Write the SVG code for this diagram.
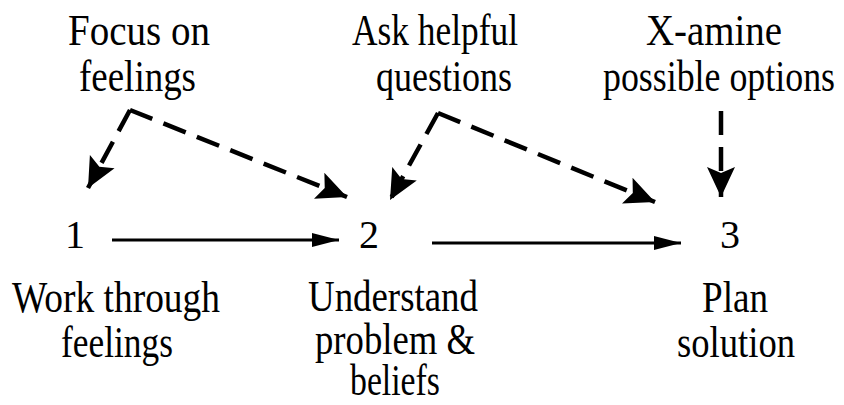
<svg xmlns="http://www.w3.org/2000/svg" width="844" height="405" viewBox="0 0 844 405">
<defs>
<marker id="big" markerUnits="userSpaceOnUse" markerWidth="32" markerHeight="30" refX="30" refY="14" orient="auto" viewBox="0 0 32 28">
<path d="M0,0 L30,14 L0,28 L6,14 Z" fill="#000"/>
</marker>
<marker id="small" markerUnits="userSpaceOnUse" markerWidth="28" markerHeight="16" refX="27" refY="7" orient="auto" viewBox="0 0 28 14">
<path d="M0,0 L27,7 L0,14 Z" fill="#000"/>
</marker>
</defs>
<rect width="844" height="405" fill="#fff"/>
<g style="font-family:'Liberation Serif',serif" font-size="44" fill="#000">
<g id="focus">
<text x="68" y="45" textLength="142" lengthAdjust="spacingAndGlyphs">Focus on</text>
<text x="79" y="91" textLength="117" lengthAdjust="spacingAndGlyphs">feelings</text>
</g>
<g id="ask">
<text x="352" y="45" textLength="166" lengthAdjust="spacingAndGlyphs">Ask helpful</text>
<text x="376" y="91" textLength="136" lengthAdjust="spacingAndGlyphs">questions</text>
</g>
<g id="examine">
<text x="646" y="45" textLength="136" lengthAdjust="spacingAndGlyphs">X-amine</text>
<text x="603" y="91" textLength="232" lengthAdjust="spacingAndGlyphs">possible options</text>
</g>
<g id="step1">
<text font-size="40" x="65" y="248">1</text>
<text x="12" y="312" textLength="208" lengthAdjust="spacingAndGlyphs">Work through</text>
<text x="61" y="357" textLength="112" lengthAdjust="spacingAndGlyphs">feelings</text>
</g>
<g id="step2">
<text font-size="40" x="359" y="248">2</text>
<text x="308" y="311" textLength="170" lengthAdjust="spacingAndGlyphs">Understand</text>
<text x="315" y="354" textLength="160" lengthAdjust="spacingAndGlyphs">problem &amp;</text>
<text x="350" y="395" textLength="90" lengthAdjust="spacingAndGlyphs">beliefs</text>
</g>
<g id="step3">
<text font-size="40" x="720" y="248">3</text>
<text x="702" y="312" textLength="66" lengthAdjust="spacingAndGlyphs">Plan</text>
<text x="677" y="357" textLength="118" lengthAdjust="spacingAndGlyphs">solution</text>
</g>
</g>
<g id="connectors" fill="none" stroke="#000">
<g stroke-width="3">
<path d="M112,240 L339,240" marker-end="url(#small)"/>
<path d="M432,243 L681,243" marker-end="url(#small)"/>
</g>
<g stroke-width="4.5" stroke-dasharray="24 12">
<path d="M130,110 L88,188" marker-end="url(#big)"/>
<path d="M130,110 L347,197" marker-end="url(#big)"/>
<path d="M438,113 L390,200" marker-end="url(#big)"/>
<path d="M438,113 L655,202" marker-end="url(#big)"/>
<path d="M721,111 L721,197" marker-end="url(#big)"/>
</g>
</g>
</svg>
